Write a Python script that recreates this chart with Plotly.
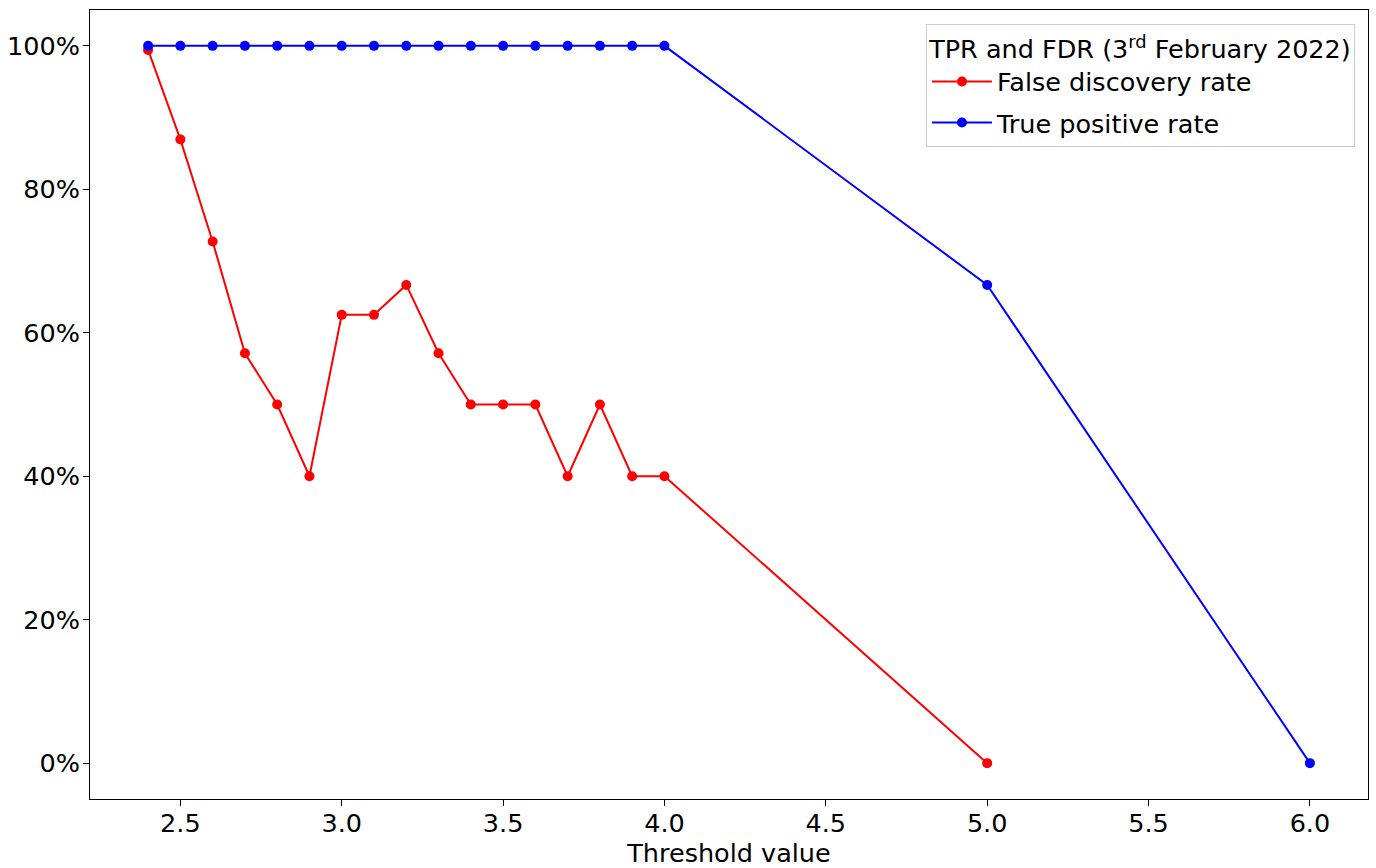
import plotly.graph_objects as go

thresholds_fdr = [2.4, 2.5, 2.6, 2.7, 2.8, 2.9, 3.0, 3.1, 3.2, 3.3, 3.4, 3.5, 3.6, 3.7, 3.8, 3.9, 4.0, 5.0]
fdr_values = [0.9943, 0.8696, 0.7273, 0.5714, 0.5, 0.4, 0.625, 0.625, 0.6667, 0.5714, 0.5, 0.5, 0.5, 0.4, 0.5, 0.4, 0.4, 0.0]

thresholds_tpr = [2.4, 2.5, 2.6, 2.7, 2.8, 2.9, 3.0, 3.1, 3.2, 3.3, 3.4, 3.5, 3.6, 3.7, 3.8, 3.9, 4.0, 5.0, 6.0]
tpr_values = [1.0, 1.0, 1.0, 1.0, 1.0, 1.0, 1.0, 1.0, 1.0, 1.0, 1.0, 1.0, 1.0, 1.0, 1.0, 1.0, 1.0, 0.6667, 0.0]

x_ticks = [2.5, 3.0, 3.5, 4.0, 4.5, 5.0, 5.5, 6.0]
x_tick_labels = ["2.5", "3.0", "3.5", "4.0", "4.5", "5.0", "5.5", "6.0"]
y_ticks = [0, 0.2, 0.4, 0.6, 0.8, 1.0]
y_tick_labels = ["0%", "20%", "40%", "60%", "80%", "100%"]

FS = 25.5

fig = go.Figure()
fig.add_trace(go.Scatter(x=thresholds_fdr, y=fdr_values, mode="lines+markers",
                         name="False discovery rate", legendgroup="fdr",
                         line=dict(color="red", width=2),
                         marker=dict(color="red", size=10)))
fig.add_trace(go.Scatter(x=thresholds_tpr, y=tpr_values, mode="lines+markers",
                         name="True positive rate", legendgroup="tpr",
                         line=dict(color="blue", width=2),
                         marker=dict(color="blue", size=10)))

axis_common = dict(showline=True, linecolor="black", linewidth=1, mirror=True,
                   ticks="outside", ticklen=6, tickcolor="black", showgrid=False,
                   zeroline=False, automargin=False,
                   tickfont=dict(size=FS, color="black"))

fig.update_layout(
    width=1376, height=868,
    margin=dict(l=90, r=8, t=10, b=69),
    paper_bgcolor="white", plot_bgcolor="white",
    font=dict(family="DejaVu Sans", color="black"),
    xaxis=dict(range=[2.22, 6.18], tickvals=x_ticks, ticktext=x_tick_labels,
               ticklabelstandoff=-5,
               title=dict(text="Threshold value", font=dict(size=FS), standoff=2),
               **axis_common),
    yaxis=dict(range=[-0.05, 1.05], tickvals=y_ticks, ticktext=y_tick_labels,
               ticklabelstandoff=-2,
               **axis_common),
    legend=dict(x=0.9898, y=0.982, xanchor="right", yanchor="top",
                bgcolor="rgba(255,255,255,0.8)", bordercolor="#cccccc", borderwidth=1,
                font=dict(size=FS), tracegroupgap=5,
                title=dict(text="TPR and FDR (3<sup>rd</sup> February 2022)",
                           font=dict(size=FS), side="top center"),
                itemwidth=60),
)

fig.write_html("out.html", config={"displayModeBar": False},
               post_script="document.body.style.margin='0px';")
